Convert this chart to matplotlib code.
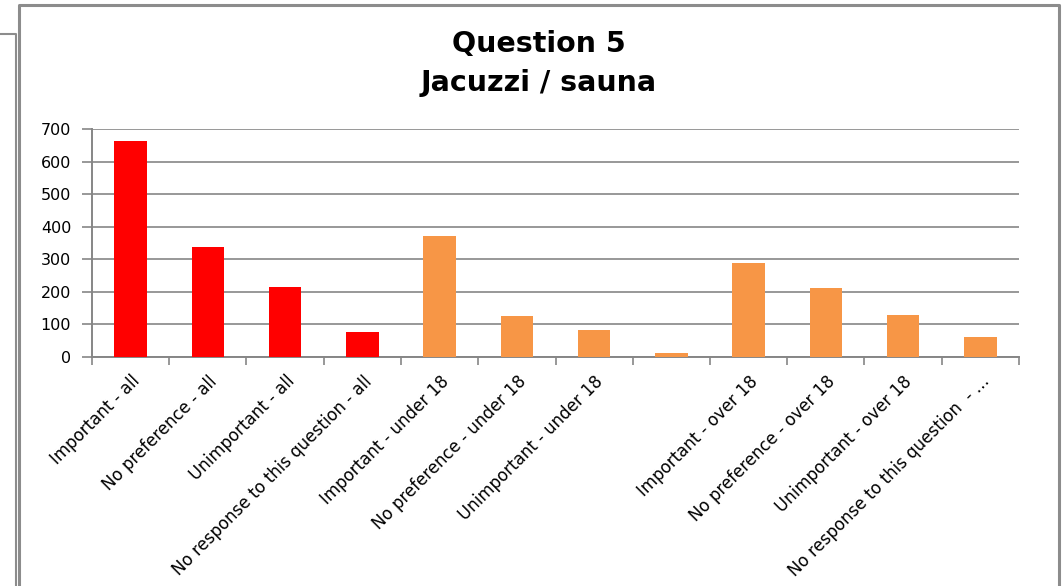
import matplotlib
matplotlib.use("Agg")
from matplotlib import pyplot as plt
from matplotlib.lines import Line2D

# --- data ---
categories = [
    "Important - all",
    "No preference - all",
    "Unimportant - all",
    "No response to this question - all",
    "Important - under 18",
    "No preference - under 18",
    "Unimportant - under 18",
    "",
    "Important - over 18",
    "No preference - over 18",
    "Unimportant - over 18",
    "No response to this question  - \u2026",
]
values = [663, 338, 215, 78, 371, 127, 84, 13, 290, 212, 130, 62]
groups = ["all"] * 4 + ["sub"] * 8

colors = {"all": "#FF0000", "sub": "#F79646"}
grid_col = "#868686"

plt.rcParams["font.family"] = ["DejaVu Sans"]

fig = plt.figure(figsize=(10.64, 5.86), dpi=100)
ax = fig.add_axes([92 / 1064, 1 - 357 / 586, (1019 - 92) / 1064, (357 - 129) / 586])

x = list(range(len(values)))
ax.bar(x, values, width=0.42, color=[colors[g] for g in groups], zorder=3)

ax.set_xlim(-0.5, len(values) - 0.5)
ax.set_ylim(0, 700)
ax.set_yticks(range(0, 701, 100))
ax.tick_params(axis="y", labelsize=11.5, length=7, color=grid_col, width=1.2, pad=8)
ax.yaxis.grid(True, color=grid_col, linewidth=1.2, zorder=0)

# category boundary ticks below the axis
ax.set_xticks([i - 0.5 for i in range(len(values) + 1)], minor=False)
ax.set_xticklabels([])
ax.tick_params(axis="x", which="major", length=6, color=grid_col, width=1.2, direction="out")
ax.set_xticks(x, minor=True)
ax.set_xticklabels(categories, minor=True, rotation=45, ha="right",
                   rotation_mode="anchor", fontsize=12)
ax.tick_params(axis="x", which="minor", length=0, pad=11)

for side in ["top", "right"]:
    ax.spines[side].set_visible(False)
for side in ["left", "bottom"]:
    ax.spines[side].set_color(grid_col)
    ax.spines[side].set_linewidth(1.4)

fig.text(539 / 1064, 1 - 52 / 586, "Question 5", ha="center", va="baseline",
         fontsize=20.5, fontweight="bold")
fig.text(539 / 1064, 1 - 91 / 586, "Jacuzzi / sauna", ha="center", va="baseline",
         fontsize=20.5, fontweight="bold")

# chart frame lines
W, H = 1064, 586
def fline(xs, ys, lw=2.2):
    fig.add_artist(Line2D([p / W for p in xs], [1 - p / H for p in ys],
                          color="#8c8c8c", linewidth=lw, transform=fig.transFigure))

fline([19, 19, 1059, 1059], [586, 5, 5, 586])
fline([0, 16, 16], [34, 34, 586], lw=1.5)

fig.savefig("out.png", dpi=100, facecolor="white")
